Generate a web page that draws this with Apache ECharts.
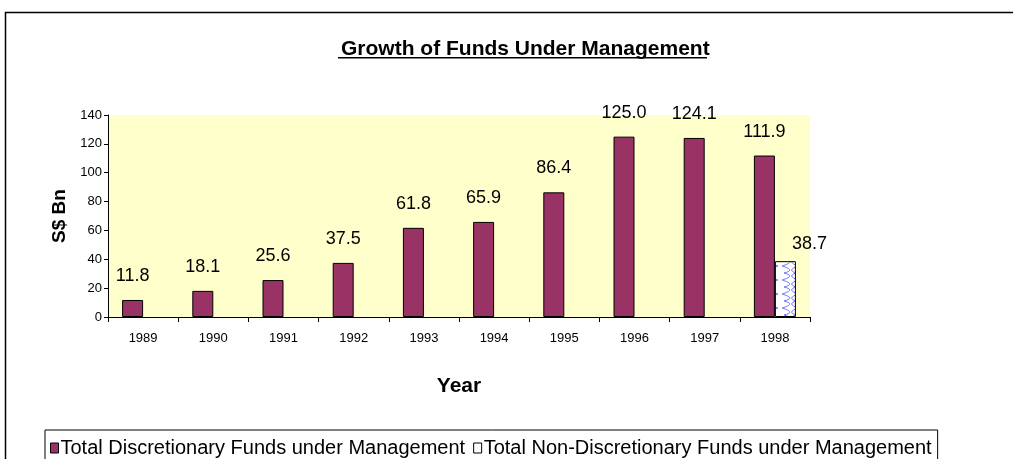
<!DOCTYPE html>
<html>
<head>
<meta charset="utf-8">
<script src="https://cdn.jsdelivr.net/npm/echarts@6/dist/echarts.min.js"></script>
<style>
  html, body { margin: 0; padding: 0; background: #fff; }
  #main { width: 1013px; height: 459px; }
</style>
</head>
<body>
<div id="main"></div>
<script>
// data
var years = ["1989", "1990", "1991", "1992", "1993", "1994", "1995", "1996", "1997", "1998"];
var discretionary = [11.8, 18.1, 25.6, 37.5, 61.8, 65.9, 86.4, 125.0, 124.1, 111.9];
var nonDiscretionary = [null, null, null, null, null, null, null, null, null, 38.7];
var yTicks = [0, 20, 40, 60, 80, 100, 120, 140];

var font = "'Liberation Sans', Arial, sans-serif";

// little wavy blue pattern for the non-discretionary bar
function makeWave() {
  var c = document.createElement("canvas");
  c.width = 20;
  c.height = 14;
  var ctx = c.getContext("2d");
  ctx.fillStyle = "#ffffff";
  ctx.fillRect(0, 0, 20, 14);
  ctx.strokeStyle = "#7070ff";
  ctx.lineWidth = 1;
  ctx.beginPath();
  ctx.moveTo(2, 0);
  ctx.bezierCurveTo(12, 3, 12, 5, 4, 7);
  ctx.bezierCurveTo(12, 9, 12, 11, 2, 14);
  ctx.stroke();
  ctx.beginPath();
  ctx.moveTo(18, 0);
  ctx.bezierCurveTo(10, 3, 10, 5, 16, 7);
  ctx.bezierCurveTo(10, 9, 10, 11, 18, 14);
  ctx.stroke();
  return c;
}
var wave = makeWave();

function oneDecimal(p) {
  return p.value.toFixed(1);
}

var chart = echarts.init(document.getElementById("main"));
chart.setOption({
  animation: false,
  backgroundColor: "#ffffff",
  title: {
    text: "Growth of Funds Under Management",
    top: 34,
    left: 336,
    textStyle: {
      fontFamily: font,
      fontSize: 21,
      fontWeight: "bold",
      color: "#000"
    }
  },
  graphic: [
    // outer chart border
    {
      type: "rect",
      shape: { x: 5.5, y: 12.5, width: 1020, height: 460 },
      style: { fill: "none", stroke: "#000", lineWidth: 1.5 },
      z: -1
    },
    // title underline
    {
      type: "rect",
      shape: { x: 338, y: 57, width: 369, height: 1.5 },
      style: { fill: "#000" }
    }
  ],
  legend: {
    left: 45,
    top: 430,
    padding: [8, 6, 12, 5],
    borderColor: "#000",
    borderWidth: 1,
    itemWidth: 8,
    itemHeight: 10,
    itemGap: 8,
    textStyle: { fontFamily: font, fontSize: 20, color: "#000", padding: [0, 0, 0, -3] },
    data: [
      { name: "Total Discretionary Funds under Management", icon: "rect", itemStyle: { color: "#993366", borderColor: "#000", borderWidth: 1 } },
      { name: "Total Non-Discretionary Funds under Management", icon: "rect", itemStyle: { color: "#ffffff", borderColor: "#000", borderWidth: 1 } }
    ]
  },
  grid: {
    left: 108,
    right: 203,
    top: 115,
    bottom: 142,
    show: true,
    backgroundColor: "#ffffcc",
    borderWidth: 0
  },
  xAxis: {
    type: "category",
    data: years,
    name: "Year",
    nameLocation: "middle",
    nameGap: 59,
    nameTextStyle: { fontFamily: font, fontSize: 21, fontWeight: "bold", color: "#000" },
    axisLine: { lineStyle: { color: "#000", width: 1 } },
    axisTick: { show: true, length: 5, lineStyle: { color: "#000" } },
    axisLabel: { fontFamily: font, fontSize: 13, color: "#000", margin: 15 }
  },
  yAxis: {
    type: "value",
    min: yTicks[0],
    max: yTicks[yTicks.length - 1],
    interval: 20,
    name: "S$ Bn",
    nameLocation: "middle",
    nameGap: 38,
    nameRotate: 90,
    nameTextStyle: { fontFamily: font, fontSize: 19, fontWeight: "bold", color: "#000" },
    splitLine: { show: false },
    axisLine: { show: true, lineStyle: { color: "#000", width: 1 } },
    axisTick: { show: true, length: 4, lineStyle: { color: "#000" } },
    axisLabel: { fontFamily: font, fontSize: 13, color: "#000", margin: 6 }
  },
  series: [
    {
      name: "Total Discretionary Funds under Management",
      type: "bar",
      data: discretionary,
      barWidth: 21,
      barGap: "0%",
      itemStyle: { color: "#993366", borderColor: "#000", borderWidth: 1 },
      label: {
        show: true,
        position: "top",
        distance: 15,
        formatter: oneDecimal,
        fontFamily: font,
        fontSize: 18,
        color: "#000"
      }
    },
    {
      name: "Total Non-Discretionary Funds under Management",
      type: "bar",
      data: nonDiscretionary,
      barWidth: 21,
      itemStyle: { color: { image: wave, repeat: "repeat" }, borderColor: "#000", borderWidth: 1 },
      label: {
        show: true,
        position: "top",
        distance: 8,
        offset: [24, 0],
        formatter: oneDecimal,
        fontFamily: font,
        fontSize: 18,
        color: "#000"
      }
    }
  ]
});
</script>
</body>
</html>
